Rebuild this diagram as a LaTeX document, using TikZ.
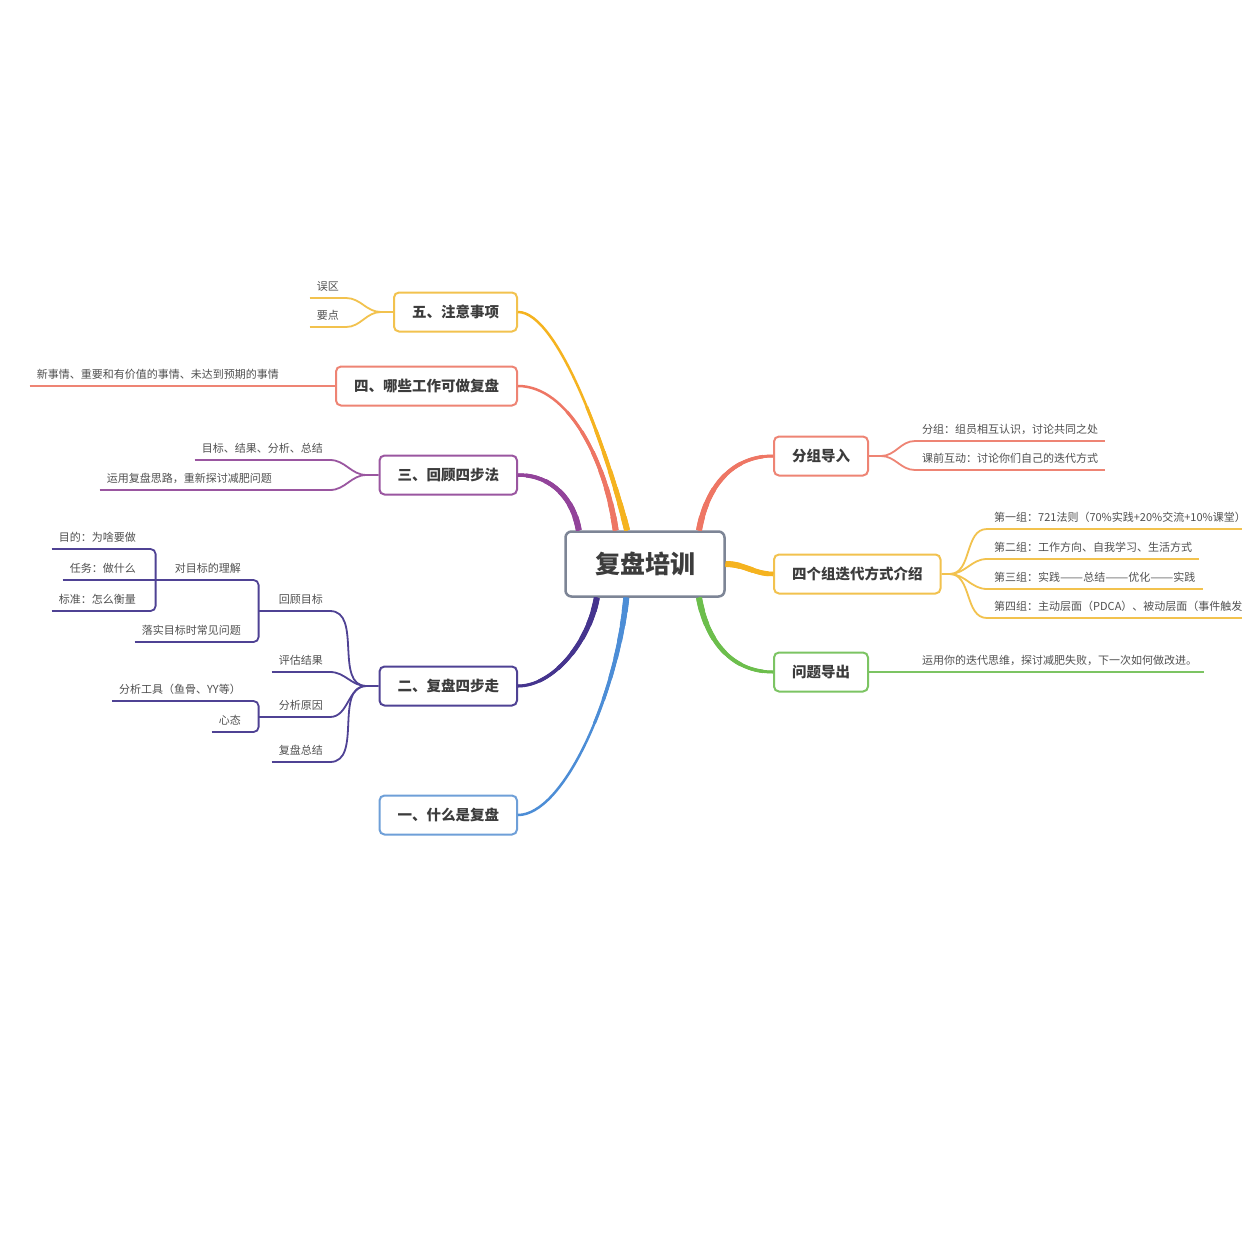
\documentclass[tikz,border=0pt]{standalone}
\usepackage{fontspec}
\usepackage{graphicx}
\setmainfont{Noto Sans CJK SC}
\usetikzlibrary{positioning}

\definecolor{cyellow}{HTML}{F5B31F}
\definecolor{cyellowb}{HTML}{F2C24E}
\definecolor{csalmon}{HTML}{EE7664}
\definecolor{csalmonb}{HTML}{EE8474}
\definecolor{cpurple}{HTML}{92439A}
\definecolor{cpurpleb}{HTML}{9A56A0}
\definecolor{cindigo}{HTML}{45348E}
\definecolor{cindigob}{HTML}{4F4294}
\definecolor{cblue}{HTML}{4C8DD6}
\definecolor{cblueb}{HTML}{6E9FD8}
\definecolor{cgreen}{HTML}{6CBE4C}
\definecolor{cgreenb}{HTML}{7CC463}
\definecolor{cgray}{HTML}{7D8596}
\definecolor{ctext}{HTML}{3C3C3C}
\definecolor{csub}{HTML}{505050}

\newcommand{\longdash}{\scalebox{1.25}[1]{——}}

\begin{document}
\begin{tikzpicture}[x=1pt, y=-1pt,
    main_node/.style={rectangle, rounded corners=6pt, draw=cgray, line width=2.5pt, fill=white, minimum width=159pt, minimum height=65pt, font=\fontsize{25}{30}\selectfont\bfseries, text=ctext},
    topic_node/.style={rectangle, rounded corners=5pt, draw=#1, line width=2pt, fill=white, inner xsep=18pt, minimum height=39pt, font=\fontsize{14.5}{17}\selectfont\bfseries, text=ctext},
    sub_node/.style={inner xsep=7pt, inner ysep=5pt, text height=9pt, text depth=2pt, font=\fontsize{11}{13}\selectfont, text=csub, append after command={(\tikzlastnode.south west) edge[draw=#1, line width=1.8pt] (\tikzlastnode.south east)}},
    branch/.style={line width=2.5pt,
        postaction={draw, line width=3pt, dash pattern=on 130pt off 3000pt},
        postaction={draw, line width=3.5pt, dash pattern=on 105pt off 3000pt},
        postaction={draw, line width=4pt, dash pattern=on 82pt off 3000pt},
        postaction={draw, line width=4.5pt, dash pattern=on 62pt off 3000pt},
        postaction={draw, line width=5pt, dash pattern=on 44pt off 3000pt},
        postaction={draw, line width=5.5pt, dash pattern=on 28pt off 3000pt},
        postaction={draw, line width=6pt, dash pattern=on 14pt off 3000pt}},
    twig/.style={line width=1.8pt}]

    \useasboundingbox (0, 0) rectangle (1242, 1242);
    \clip (0, 0) rectangle (1242, 1242);
    \fill[white] (0, 0) rectangle (1242, 1242);

    \node[main_node] (r) at (645, 564) {复盘培训};
    \node[topic_node=csalmonb, anchor=west] (a1) at (773, 456) {分组导入};
    \node[topic_node=cyellowb, anchor=west] (a2) at (773, 574) {四个组迭代方式介绍};
    \node[topic_node=cgreenb, anchor=west] (a3) at (773, 672) {问题导出};
    \node[topic_node=cyellowb, anchor=east] (b5) at (518, 312) {五、注意事项};
    \node[topic_node=csalmonb, anchor=east] (b4) at (518, 386) {四、哪些工作可做复盘};
    \node[topic_node=cpurpleb, anchor=east] (b3) at (518, 475) {三、回顾四步法};
    \node[topic_node=cindigob, anchor=east] (b2) at (518, 686) {二、复盘四步走};
    \node[topic_node=cblueb, anchor=east] (b1) at (518, 815) {一、什么是复盘};

    \node[sub_node=csalmonb, anchor=south west] (c11) at (915, 441) {分组：组员相互认识，讨论共同之处};
    \node[sub_node=csalmonb, anchor=south west] (c12) at (915, 470) {课前互动：讨论你们自己的迭代方式};
    \node[sub_node=cyellowb, anchor=south west, text width=262pt, align=left] (c21) at (987, 529) {第一组：721法则（70\%实践+20\%交流+10\%课堂）};
    \node[sub_node=cyellowb, anchor=south west] (c22) at (987, 559) {第二组：工作方向、自我学习、生活方式};
    \node[sub_node=cyellowb, anchor=south west] (c23) at (987, 589) {第三组：实践\longdash 总结\longdash 优化\longdash 实践};
    \node[sub_node=cyellowb, anchor=south west, text width=262pt, align=left] (c24) at (987, 618) {第四组：主动层面（PDCA）、被动层面（事件触发）};
    \node[sub_node=cgreenb, anchor=south west] (c31) at (915, 672) {运用你的迭代思维，探讨减肥失败，下一次如何做改进。};

    \node[sub_node=cyellowb, anchor=south east] (d51) at (346, 298) {误区};
    \node[sub_node=cyellowb, anchor=south east] (d52) at (346, 327) {要点};
    \node[sub_node=csalmonb, anchor=south east] (d41) at (286, 386) {新事情、重要和有价值的事情、未达到预期的事情};
    \node[sub_node=cpurpleb, anchor=south east] (d31) at (330, 460) {目标、结果、分析、总结};
    \node[sub_node=cpurpleb, anchor=south east, text width=216pt, align=left] (d32) at (330, 490) {运用复盘思路，重新探讨减肥问题};

    \node[sub_node=cindigob, anchor=south east] (e21) at (330, 611) {回顾目标};
    \node[sub_node=cindigob, anchor=south east] (e22) at (330, 672) {评估结果};
    \node[sub_node=cindigob, anchor=south east] (e23) at (330, 717) {分析原因};
    \node[sub_node=cindigob, anchor=south east] (e24) at (330, 762) {复盘总结};
    \node[sub_node=cindigob, anchor=south east] (e211) at (248, 580) {对目标的理解};
    \node[sub_node=cindigob, anchor=south east] (e212) at (248, 642) {落实目标时常见问题};
    \node[sub_node=cindigob, anchor=south east] (e2111) at (143, 549) {目的：为啥要做};
    \node[sub_node=cindigob, anchor=south east] (e2112) at (143, 580) {任务：做什么};
    \node[sub_node=cindigob, anchor=south east] (e2113) at (143, 611) {标准：怎么衡量};
    \node[sub_node=cindigob, anchor=south east] (e231) at (248, 701) {分析工具（鱼骨、YY等）};
    \node[sub_node=cindigob, anchor=south east] (e232) at (248, 732) {心态};

    \coordinate[right=12pt of a1] (f1);
    \coordinate[right=8pt of a2] (f2);
    \coordinate[left=12pt of b5] (g5);
    \coordinate[left=12pt of b3] (g3);
    \coordinate[left=12pt of b2] (g2);
    \coordinate[left=13pt of e21.south west] (k21);
    \coordinate[left=12pt of e211.south west] (k211);
    \coordinate[left=13pt of e23.south west] (k23);

    \draw[cyellow, branch] (r.118) .. controls +(-20, -80) and +(40, 0) .. (b5.east);
    \draw[csalmon, branch] (r.131) .. controls +(-10, -70) and +(50, 0) .. (b4.east);
    \draw[cpurple, branch] (r.153) .. controls +(-5, -30) and +(35, 0) .. (b3.east);
    \draw[cindigo, branch] (r.215) .. controls +(-8, 45) and +(35, 0) .. (b2.east);
    \draw[cblue, branch] (r.241) .. controls +(-10, 100) and +(45, 0) .. (b1.east);
    \draw[csalmon, branch] (r.32) .. controls +(8, -45) and +(-40, 0) .. (a1.west);
    \draw[cyellow, branch] (r.east) to[out=0, in=180] (a2.west);
    \draw[cgreen, branch] (r.328) .. controls +(8, 45) and +(-40, 0) .. (a3.west);

    \draw[csalmonb, twig] (a1.east) -- (f1) to[out=0, in=180] (c11.south west);
    \draw[csalmonb, twig] (f1) to[out=0, in=180] (c12.south west);
    \draw[cyellowb, twig] (a2.east) -- (f2) to[out=0, in=180] (c21.south west);
    \draw[cyellowb, twig] (f2) to[out=0, in=180] (c22.south west);
    \draw[cyellowb, twig] (f2) to[out=0, in=180] (c23.south west);
    \draw[cyellowb, twig] (f2) to[out=0, in=180] (c24.south west);
    \draw[cgreenb, twig] (a3.east) -- (c31.south west);

    \draw[cyellowb, twig] (b5.west) -- (g5) to[out=180, in=0] (d51.south east);
    \draw[cyellowb, twig] (g5) to[out=180, in=0] (d52.south east);
    \draw[csalmonb, twig] (b4.west) -- (d41.south east);
    \draw[cpurpleb, twig] (b3.west) -- (g3) to[out=180, in=0] (d31.south east);
    \draw[cpurpleb, twig] (g3) to[out=180, in=0] (d32.south east);
    \draw[cindigob, twig] (b2.west) -- (g2) to[out=180, in=0] (e21.south east);
    \draw[cindigob, twig] (g2) to[out=180, in=0] (e22.south east);
    \draw[cindigob, twig] (g2) to[out=180, in=0] (e23.south east);
    \draw[cindigob, twig] (g2) to[out=180, in=0] (e24.south east);

    \draw[cindigob, twig] (e21.south west) -- (k21);
    \draw[cindigob, twig, rounded corners=5pt] (e211.south east) -| (k21) |- (e212.south east);
    \draw[cindigob, twig] (e2112.south east) -- (e211.south west);
    \draw[cindigob, twig, rounded corners=5pt] (e2111.south east) -| (k211) |- (e2113.south east);
    \draw[cindigob, twig] (e23.south west) -- (k23);
    \draw[cindigob, twig, rounded corners=5pt] (e231.south east) -| (k23) |- (e232.south east);

\end{tikzpicture}
\end{document}
